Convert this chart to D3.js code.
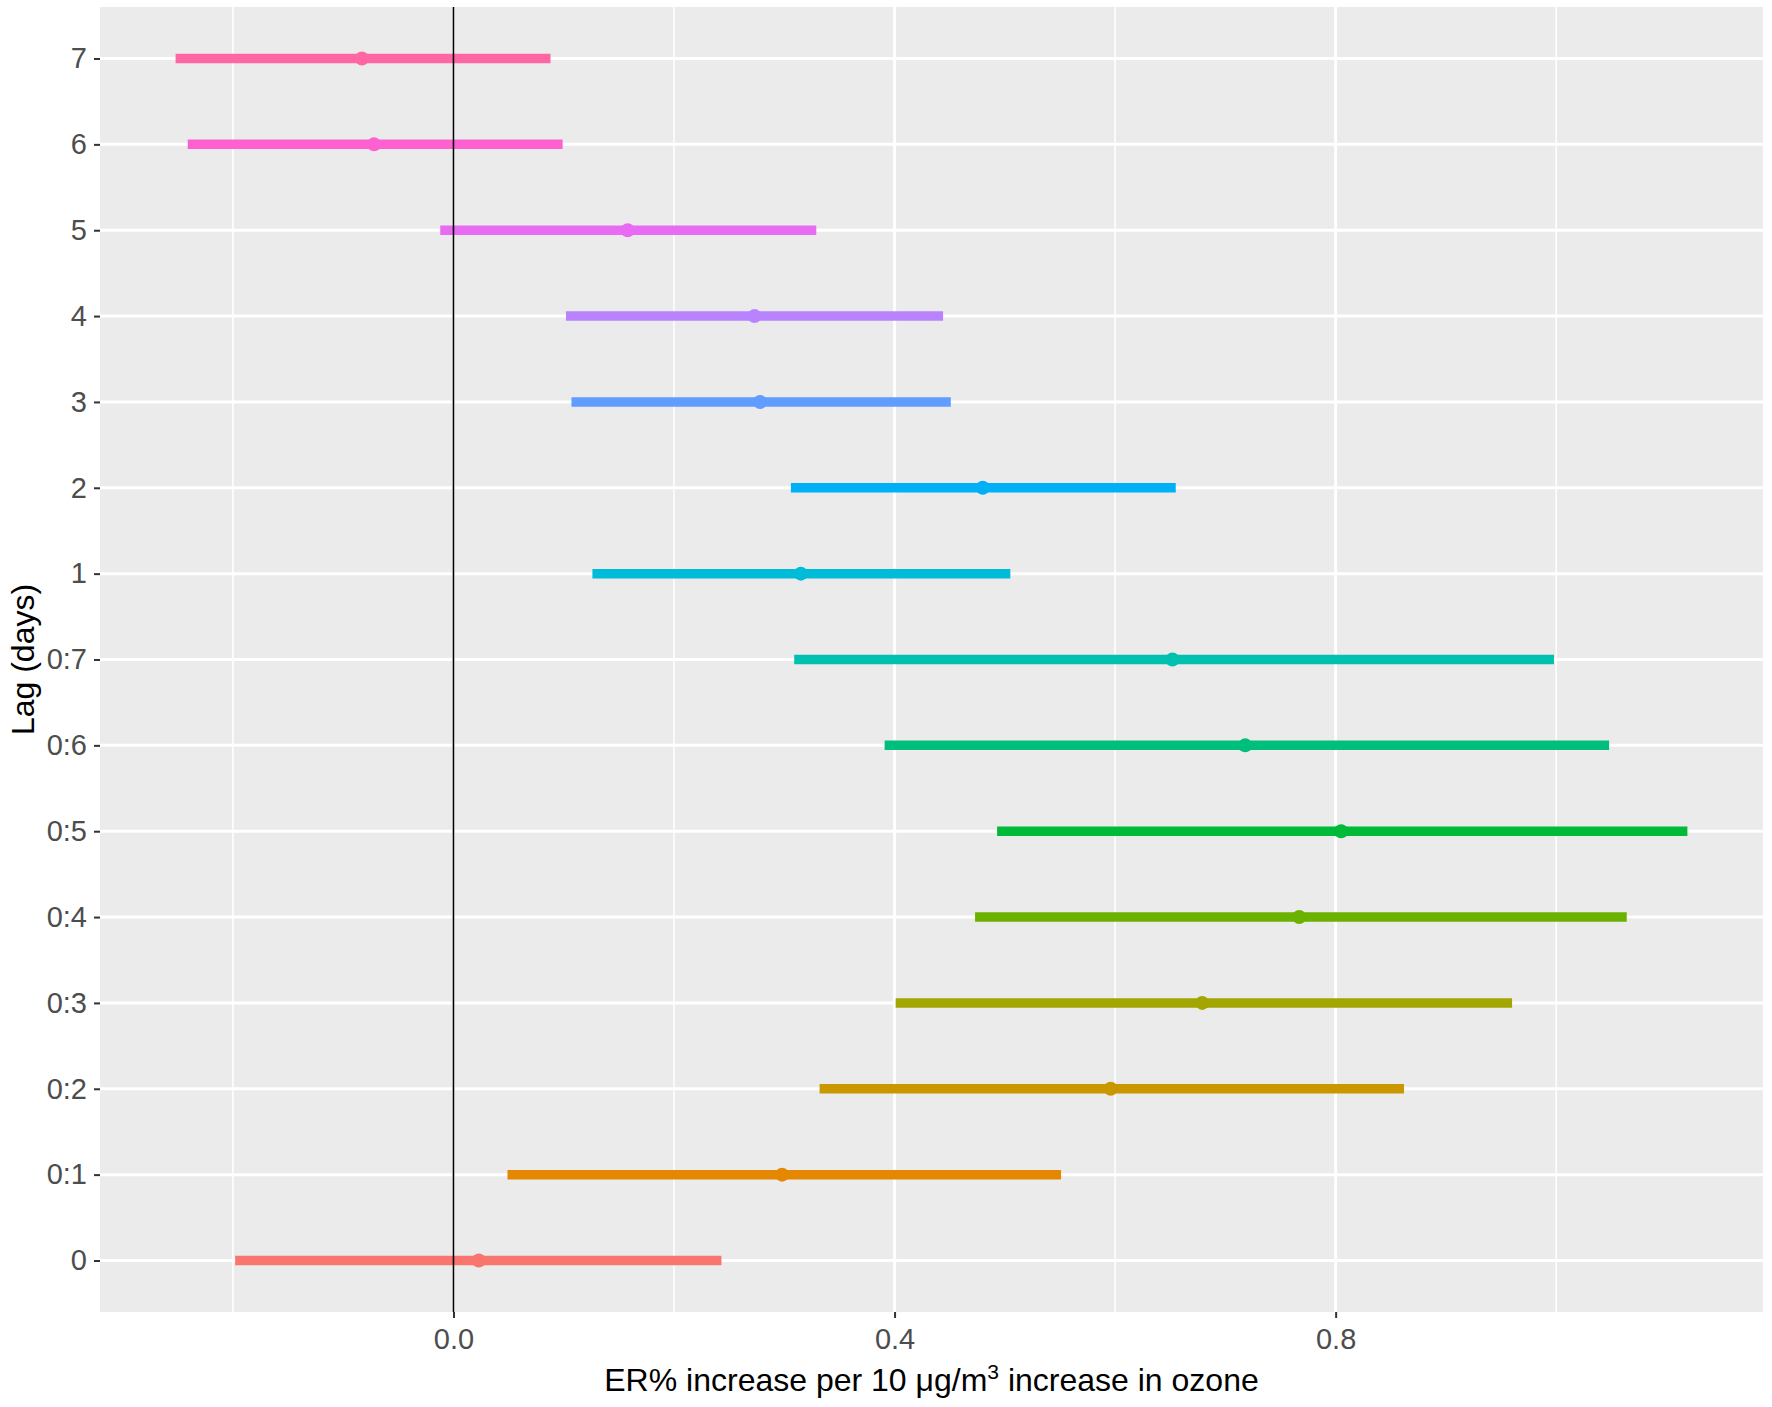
<!DOCTYPE html>
<html>
<head>
<meta charset="utf-8">
<script src="https://cdn.jsdelivr.net/npm/d3@7"></script>
<style>
  body { margin: 0; background: #fff; }
  text { font-family: "Liberation Sans", Arial, sans-serif; }
</style>
</head>
<body>
<svg id="chart" width="1772" height="1407"></svg>
<script>
// lag categories, bottom to top (factor order)
var lags = ["0", "0:1", "0:2", "0:3", "0:4", "0:5", "0:6", "0:7", "1", "2", "3", "4", "5", "6", "7"];
var estimate = [0.023, 0.298, 0.596, 0.679, 0.767, 0.805, 0.718, 0.652, 0.315, 0.480, 0.278, 0.273, 0.158, -0.072, -0.083];
var lower    = [-0.198, 0.049, 0.332, 0.401, 0.473, 0.493, 0.391, 0.309, 0.126, 0.306, 0.107, 0.102, -0.012, -0.241, -0.252];
var upper    = [0.243, 0.551, 0.862, 0.960, 1.064, 1.119, 1.048, 0.998, 0.505, 0.655, 0.451, 0.444, 0.329, 0.099, 0.088];
var lagColors = ["#F8766D", "#E58700", "#C99800", "#A3A500", "#6BB100", "#00BA38", "#00BF7D", "#00C0AF",
                 "#00BCD8", "#00B0F6", "#619CFF", "#B983FF", "#E76BF3", "#FD61D1", "#FF67A4"];
var xMajor = [0.0, 0.4, 0.8];
var xMinor = [-0.2, 0.2, 0.6, 1.0];

var svg = d3.select("#chart");
var pLeft = 100, pRight = 1763, pTop = 7, pBottom = 1312;

var rows = lags.map(function(l, i) {
  return {lag: l, est: estimate[i], lo: lower[i], hi: upper[i], col: lagColors[i]};
});

// ggplot style 5% expansion
var xmin = d3.min(lower), xmax = d3.max(upper), pad = (xmax - xmin) * 0.05;
var x = d3.scaleLinear().domain([xmin - pad, xmax + pad]).range([pLeft, pRight]);
var y = d3.scalePoint().domain(lags).range([pBottom, pTop]).padding(0.6);

svg.append("rect")
  .attr("x", pLeft).attr("y", pTop)
  .attr("width", pRight - pLeft).attr("height", pBottom - pTop)
  .attr("fill", "#EBEBEB");

// grid
var grid = svg.append("g");
grid.selectAll("line.minor").data(xMinor).join("line")
  .attr("class", "minor")
  .attr("x1", d => x(d)).attr("x2", d => x(d))
  .attr("y1", pTop).attr("y2", pBottom)
  .attr("stroke", "#fff").attr("stroke-width", 1.5);
grid.selectAll("line.vmaj").data(xMajor).join("line")
  .attr("class", "vmaj")
  .attr("x1", d => x(d)).attr("x2", d => x(d))
  .attr("y1", pTop).attr("y2", pBottom)
  .attr("stroke", "#fff").attr("stroke-width", 3);
grid.selectAll("line.hmaj").data(lags).join("line")
  .attr("class", "hmaj")
  .attr("x1", pLeft).attr("x2", pRight)
  .attr("y1", d => y(d)).attr("y2", d => y(d))
  .attr("stroke", "#fff").attr("stroke-width", 3);

// intervals + points
svg.append("g").selectAll("line").data(rows).join("line")
  .attr("x1", d => x(d.lo)).attr("x2", d => x(d.hi))
  .attr("y1", d => y(d.lag)).attr("y2", d => y(d.lag))
  .attr("stroke", d => d.col).attr("stroke-width", 9.5);

svg.append("g").selectAll("circle").data(rows).join("circle")
  .attr("cx", d => x(d.est)).attr("cy", d => y(d.lag))
  .attr("r", 7).attr("fill", d => d.col);

// reference line at 0
svg.append("line")
  .attr("x1", x(0)).attr("x2", x(0)).attr("y1", pTop).attr("y2", pBottom)
  .attr("stroke", "#000").attr("stroke-width", 1.6);

// axes
var xAxis = svg.append("g").attr("transform", "translate(0," + pBottom + ")")
  .call(d3.axisBottom(x).tickValues(xMajor).tickFormat(d3.format(".1f")).tickSize(6).tickPadding(10));
var yAxis = svg.append("g").attr("transform", "translate(" + pLeft + ",0)")
  .call(d3.axisLeft(y).tickSize(6).tickPadding(7));

[xAxis, yAxis].forEach(function(a) {
  a.attr("font-size", null).attr("font-family", null);
  a.select(".domain").remove();
  a.selectAll(".tick line").attr("stroke", "#333").attr("stroke-width", 2);
  a.selectAll(".tick text").attr("fill", "#4D4D4D").style("font-size", "29px");
});

// axis titles
var xt = svg.append("text")
  .attr("x", (pLeft + pRight) / 2).attr("y", 1391)
  .attr("text-anchor", "middle")
  .style("font-size", "32px").attr("fill", "#000");
xt.append("tspan").text("ER% increase per 10 \u03BCg/m");
xt.append("tspan").attr("dy", -12).style("font-size", "21px").text("3");
xt.append("tspan").attr("dy", 12).text(" increase in ozone");

svg.append("text")
  .attr("transform", "translate(34," + ((pTop + pBottom) / 2) + ") rotate(-90)")
  .attr("text-anchor", "middle")
  .style("font-size", "32px").attr("fill", "#000")
  .text("Lag (days)");
</script>
</body>
</html>
